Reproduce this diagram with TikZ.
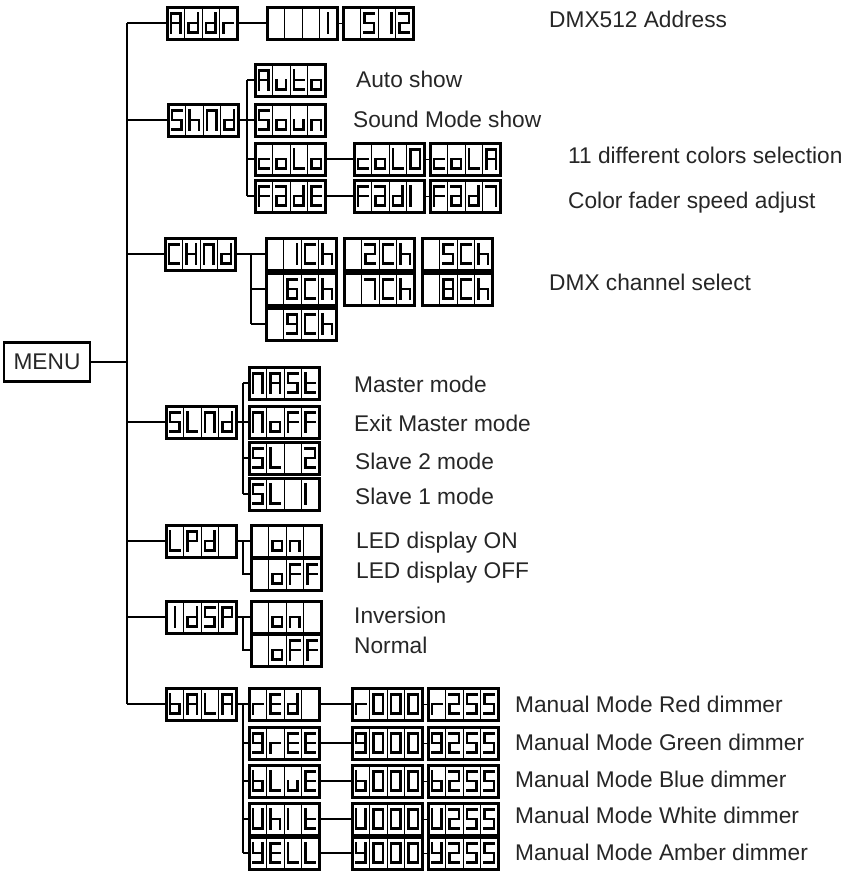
\documentclass[tikz,border=0pt]{standalone}
\usepackage{fontspec}
\setmainfont{Liberation Sans}
\tikzset{
  wire/.style={line width=2.6pt},
  thinwire/.style={line width=1pt},
  dbox/.style={draw, line width=3pt, minimum width=70pt, minimum height=32pt, inner sep=0pt, outer sep=0pt},
  sepline/.style={line width=1pt},
  segline/.style={line width=2.3pt, line cap=rect},
  lbl/.style={anchor=base west, inner sep=0pt, font=\fontsize{22.7}{26}\selectfont, text=black!85},
}
\newcommand\defseg[2]{\expandafter\def\csname seg-#1\endcsname{\draw[segline] #2;}}
\defseg{a}{(4,6.5)--(13.5,6.5)}
\defseg{b}{(13.5,6.5)--(13.5,16)}
\defseg{c}{(13.5,16)--(13.5,25.5)}
\defseg{d}{(4,25.5)--(13.5,25.5)}
\defseg{e}{(4,16)--(4,25.5)}
\defseg{f}{(4,6.5)--(4,16)}
\defseg{g}{(4,16)--(13.5,16)}
\defseg{m}{(8.75,6.5)--(8.75,25.5)}
\expandafter\def\csname seg-z\endcsname{}
\newcommand\defch[2]{\expandafter\def\csname ch-#1\endcsname{#2}}
\defch{x}{z}
\defch{A}{a,b,c,e,f,g}
\defch{a}{a,b,c,d,e,g}
\defch{b}{c,d,e,f,g}
\defch{C}{a,d,e,f}
\defch{c}{d,e,g}
\defch{d}{b,c,d,e,g}
\defch{E}{a,d,e,f,g}
\defch{F}{a,e,f,g}
\defch{H}{b,c,e,f,g}
\defch{h}{c,e,f,g}
\defch{I}{m}
\defch{L}{d,e,f}
\defch{l}{e,f}
\defch{N}{a,b,c,e,f}
\defch{n}{c,e,g}
\defch{o}{c,d,e,g}
\defch{0}{a,b,c,d,e,f}
\defch{P}{a,b,e,f,g}
\defch{r}{e,g}
\defch{S}{a,c,d,f,g}
\defch{t}{d,e,f,g}
\defch{U}{b,c,d,e,f}
\defch{u}{c,d,e}
\defch{y}{b,c,d,f,g}
\defch{1}{b,c}
\defch{2}{a,b,d,e,g}
\defch{5}{a,c,d,f,g}
\defch{6}{a,c,d,e,f,g}
\defch{7}{a,b,c}
\defch{8}{a,b,c,d,e,f,g}
\defch{9}{a,b,c,d,f,g}
\newcommand\sevseg[3]{%
  \begin{scope}[shift={(#1,#2)}]
    \edef\seglist{\csname ch-#3\endcsname}%
    \foreach \s in \seglist {\csname seg-\s\endcsname}%
  \end{scope}}
\newcommand\disp[7]{%
  \node[dbox] (#1) at ({#2+35},{#3+16}) {};
  \foreach \k in {1,2,3} {\draw[sepline] ({#2+17.5*\k},#3) -- ({#2+17.5*\k},{#3+32});}
  \sevseg{#2}{#3}{#4}\sevseg{#2+17.5}{#3}{#5}\sevseg{#2+35}{#3}{#6}\sevseg{#2+52.5}{#3}{#7}}
\begin{document}
\begin{tikzpicture}[x=1pt,y=-1pt]
\useasboundingbox (0,0) rectangle (849,871);
% menu
\node[draw, line width=2.4pt, minimum width=86pt, minimum height=39pt, inner sep=0pt, font=\fontsize{22.7}{26}\selectfont, text=black!85] (menu) at (47,362) {MENU};
\coordinate (trunk) at (127,362);
\coordinate (sv1) at (247,0);
\coordinate (sv2) at (251,0);
\coordinate (sv3) at (243,0);
\coordinate (sv4) at (243,0);
\coordinate (sv5) at (243,0);
% displays
\disp{addr}{167}{7}{A}{d}{d}{r}
\disp{a1}{267}{7}{x}{x}{x}{I}
\disp{a512}{343}{7}{x}{5}{1}{2}
\disp{shnd}{168}{104}{S}{h}{N}{d}
\disp{auto}{255}{64}{A}{u}{t}{o}
\disp{soun}{255}{104}{S}{o}{u}{n}
\disp{colo}{255}{143}{c}{o}{L}{o}
\disp{fade}{255}{180}{F}{a}{d}{E}
\disp{col0}{354}{143}{c}{o}{L}{0}
\disp{colA}{430}{143}{c}{o}{L}{A}
\disp{fad1}{354}{180}{F}{a}{d}{l}
\disp{fad7}{430}{180}{F}{a}{d}{7}
\disp{chnd}{165}{238}{C}{H}{N}{d}
\disp{ch1}{266}{238}{x}{1}{C}{h}
\disp{ch2}{344}{238}{x}{2}{C}{h}
\disp{ch5}{422}{238}{x}{5}{C}{h}
\disp{ch6}{266}{273}{x}{6}{C}{h}
\disp{ch7}{344}{273}{x}{7}{C}{h}
\disp{ch8}{422}{273}{x}{8}{C}{h}
\disp{ch9}{266}{308}{x}{9}{C}{h}
\disp{slnd}{166}{406}{S}{L}{N}{d}
\disp{mast}{249}{367}{N}{A}{S}{t}
\disp{noff}{249}{406}{N}{o}{F}{F}
\disp{sl2}{249}{442}{S}{L}{x}{2}
\disp{sl1}{249}{478}{S}{L}{x}{l}
\disp{led}{166}{525}{L}{P}{d}{x}
\disp{on1}{251}{525}{x}{o}{n}{x}
\disp{off1}{251}{558}{x}{o}{F}{F}
\disp{idsp}{166}{601}{I}{d}{S}{P}
\disp{on2}{251}{601}{x}{o}{n}{x}
\disp{off2}{251}{634}{x}{o}{F}{F}
\disp{bata}{166}{688}{b}{A}{L}{A}
\disp{red}{249}{688}{r}{E}{d}{x}
\disp{gree}{249}{727}{9}{r}{E}{E}
\disp{blue}{249}{765}{b}{L}{u}{E}
\disp{whit}{249}{803}{U}{h}{l}{t}
\disp{yell}{249}{837}{y}{E}{L}{L}
\disp{r000}{352}{688}{r}{0}{0}{0}
\disp{r255}{428}{688}{r}{2}{5}{5}
\disp{g000}{352}{727}{9}{0}{0}{0}
\disp{g255}{428}{727}{9}{2}{5}{5}
\disp{b000}{352}{765}{b}{0}{0}{0}
\disp{b255}{428}{765}{b}{2}{5}{5}
\disp{u000}{352}{803}{U}{0}{0}{0}
\disp{u255}{428}{803}{U}{2}{5}{5}
\disp{y000}{352}{837}{y}{0}{0}{0}
\disp{y255}{428}{837}{y}{2}{5}{5}
% trunk
\draw[wire] (menu.east) -- (trunk);
\draw[wire] (trunk |- addr.west) -- (trunk |- bata.west);
\foreach \n in {addr,shnd,chnd,slnd,led,idsp,bata} {\draw[wire] (trunk |- \n.west) -- (\n.west);}
% Addr
\draw[wire] (addr.east) -- (a1.west);
\draw[thinwire] (a1.east) -- (a512.west);
% ShNd
\draw[wire] (shnd.east) -- (shnd.east -| sv1);
\draw[wire] (sv1 |- auto.west) -- (sv1 |- fade.west);
\foreach \n in {auto,soun,colo,fade} {\draw[wire] (sv1 |- \n.west) -- (\n.west);}
\draw[wire] (colo.east) -- (col0.west);
\draw[thinwire] (col0.east) -- (colA.west);
\draw[wire] (fade.east) -- (fad1.west);
\draw[thinwire] (fad1.east) -- (fad7.west);
% CHNd
\draw[wire] (chnd.east) -- (ch1.west);
\draw[wire] (sv2 |- ch1.west) -- (sv2 |- ch9.west);
\foreach \n in {ch6,ch9} {\draw[wire] (sv2 |- \n.west) -- (\n.west);}
% SLNd
\draw[wire] (slnd.east) -- (noff.west);
\draw[wire] (sv3 |- mast.west) -- (sv3 |- sl1.west);
\foreach \n in {mast,sl2,sl1} {\draw[wire] (sv3 |- \n.west) -- (\n.west);}
% LEd
\draw[wire] (led.east) -- (on1.west);
\draw[wire] (sv4 |- on1.west) |- (off1.west);
% IdSP
\draw[wire] (idsp.east) -- (on2.west);
\draw[wire] (sv4 |- on2.west) |- (off2.west);
% bAtA
\draw[wire] (bata.east) -- (red.west);
\draw[wire] (sv5 |- red.west) -- (sv5 |- yell.west);
\foreach \n in {gree,blue,whit,yell} {\draw[wire] (sv5 |- \n.west) -- (\n.west);}
\draw[wire] (red.east) -- (r000.west);
\draw[wire] (gree.east) -- (g000.west);
\draw[wire] (blue.east) -- (b000.west);
\draw[wire] (whit.east) -- (u000.west);
\draw[wire] (yell.east) -- (y000.west);
\draw[thinwire] (r000.east) -- (r255.west);
\draw[thinwire] (g000.east) -- (g255.west);
\draw[thinwire] (b000.east) -- (b255.west);
\draw[thinwire] (u000.east) -- (u255.west);
\draw[thinwire] (y000.east) -- (y255.west);
% labels
\node[lbl] (t1) at (549,27) {DMX512 Address};
\node[lbl] (t2) at (356,87) {Auto show};
\node[lbl] (t3) at (353,127) {Sound Mode show};
\node[lbl] (t4) at (568,163) {11 different colors selection};
\node[lbl] (t5) at (568,208) {Color fader speed adjust};
\node[lbl] (t6) at (549,290) {DMX channel select};
\node[lbl] (t7) at (354,392) {Master mode};
\node[lbl] (t8) at (354,431) {Exit Master mode};
\node[lbl] (t9) at (355,469) {Slave 2 mode};
\node[lbl] (t10) at (355,504) {Slave 1 mode};
\node[lbl] (t11) at (356,548) {LED display ON};
\node[lbl] (t12) at (356,578) {LED display OFF};
\node[lbl] (t13) at (354,623) {Inversion};
\node[lbl] (t14) at (354,653) {Normal};
\node[lbl] (t15) at (515,712) {Manual Mode Red dimmer};
\node[lbl] (t16) at (515,750) {Manual Mode Green dimmer};
\node[lbl] (t17) at (515,787) {Manual Mode Blue dimmer};
\node[lbl] (t18) at (515,823) {Manual Mode White dimmer};
\node[lbl] (t19) at (515,860) {Manual Mode Amber dimmer};
\end{tikzpicture}
\end{document}
